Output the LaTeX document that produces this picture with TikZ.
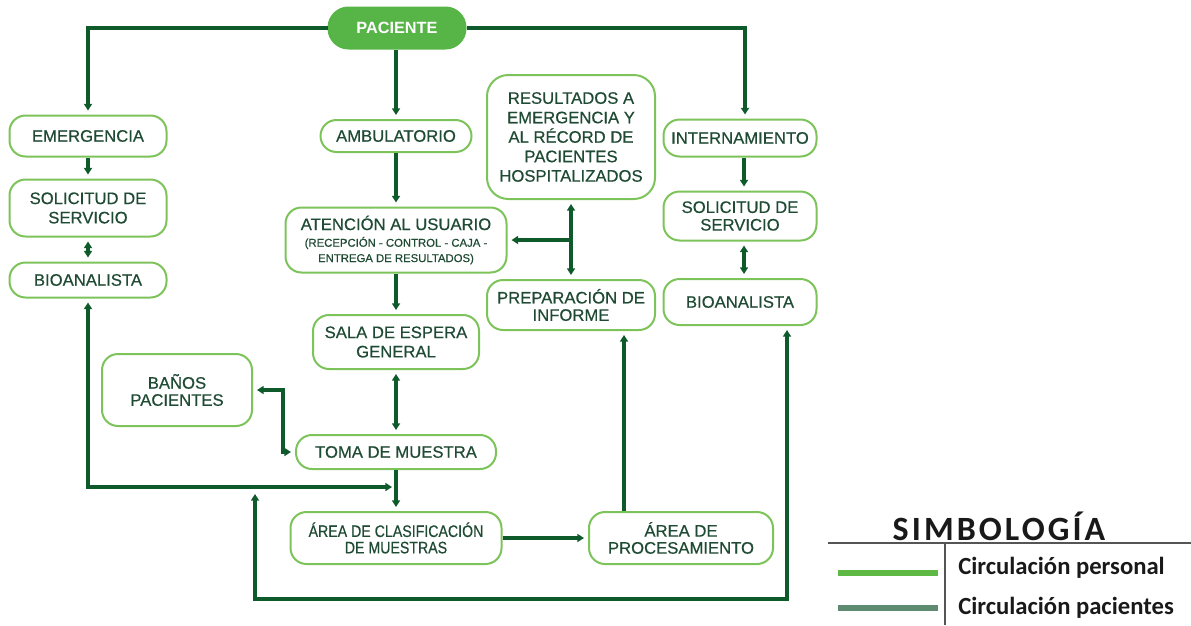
\documentclass[tikz,border=0pt]{standalone}
\usepackage{fontspec}
\setmainfont{Liberation Sans}
\newfontfamily\boxfont{Liberation Sans}[FakeBold=0.5]
\newfontfamily\narrowfont{Liberation Sans}[FakeStretch=0.85,FakeBold=0.5]
\newfontfamily\legendfont{Carlito}
\usetikzlibrary{arrows.meta}

\definecolor{linkgreen}{HTML}{0E5A2B}
\definecolor{boxline}{HTML}{7CC35A}
\definecolor{boxtext}{HTML}{1F4A33}
\definecolor{headfill}{HTML}{57B447}
\definecolor{staffline}{HTML}{5DB944}
\definecolor{patientline}{HTML}{5E8C70}
\definecolor{legendrule}{HTML}{555555}

\begin{document}
\begin{tikzpicture}[x=0.75pt,y=-0.75pt,
  stage/.style 2 args={draw=boxline, line width=1.5pt, rounded corners=12pt,
    minimum width=#1*0.75pt, minimum height=#2*0.75pt, inner sep=0pt,
    align=center, text=boxtext, font=\boxfont\fontsize{12.5}{14.5}\selectfont},
  flow/.style={draw=linkgreen, line width=2.4pt, shorten >=3pt},
  both/.style={flow, shorten <=3pt},
  >={Triangle[length=5pt,width=6pt]},
  legendtext/.style={anchor=west, inner sep=0pt, text=black!90,
    font=\legendfont\bfseries\fontsize{18.5}{20}\selectfont}]

\useasboundingbox (0,0) rectangle (1191,625);

% ---- boxes ----
\node[stage={137}{41}, fill=headfill, draw=headfill, text=white,
      rounded corners=15pt, font=\bfseries\fontsize{12.2}{14}\selectfont] (pac) at (397,28) {PACIENTE};

\node[stage={157}{41}] (emer) at (88,136) {EMERGENCIA};
\node[stage={157}{57}] (sol1) at (88,208) {SOLICITUD DE\\SERVICIO};
\node[stage={157}{35}] (bio1) at (88,280) {BIOANALISTA};

\node[stage={151}{32}] (amb) at (396,136) {AMBULATORIO};
\node[stage={221}{65}] (aten) at (396,240)
  {ATENCIÓN AL USUARIO\\[-2pt]{\fontsize{8.5}{10}\selectfont (RECEPCIÓN - CONTROL - CAJA -}\\[-3pt]{\fontsize{8.5}{10}\selectfont ENTREGA DE RESULTADOS)}};
\node[stage={166}{54}] (sala) at (396,342) {SALA DE ESPERA\\GENERAL};
\node[stage={150}{72}, font=\boxfont\fontsize{12.5}{12.8}\selectfont] (banos) at (177,390) {BAÑOS\\PACIENTES};
\node[stage={200}{34}] (toma) at (396,452) {TOMA DE MUESTRA};
\node[stage={211}{52}, font=\narrowfont\fontsize{12.5}{12.3}\selectfont] (clas) at (396,538) {ÁREA DE CLASIFICACIÓN\\DE MUESTRAS};

\node[stage={168}{124}, rounded corners=16pt, font=\boxfont\fontsize{12.5}{14.6}\selectfont] (res) at (571,137)
  {RESULTADOS A\\EMERGENCIA Y\\AL RÉCORD DE\\PACIENTES\\HOSPITALIZADOS};
\node[stage={168}{50}, font=\boxfont\fontsize{12.5}{13}\selectfont] (prep) at (571,305) {PREPARACIÓN DE\\INFORME};
\node[stage={184}{52}, font=\boxfont\fontsize{12.5}{12.8}\selectfont] (proc) at (681,538) {ÁREA DE\\PROCESAMIENTO};

\node[stage={153}{37}] (intern) at (740,138) {INTERNAMIENTO};
\node[stage={153}{49}, font=\boxfont\fontsize{12.5}{13.2}\selectfont] (sol2) at (740,216) {SOLICITUD DE\\SERVICIO};
\node[stage={153}{46}] (bio2) at (740,302) {BIOANALISTA};

% ---- connectors ----
\draw[flow,->] (pac.west) -| (emer.north);
\draw[flow,->] (pac.east) -| ([xshift=3.75pt]intern.north);
\draw[flow,->] (pac.south -| amb.north) -- (amb.north);

\draw[flow,->] (emer.south) -- (sol1.north);
\draw[both,<->] (sol1.south) -- (bio1.north);

\draw[flow,->] (amb.south) -- (aten.north);
\draw[flow,->] (aten.south) -- (sala.north);
\draw[both,<->] (sala.south) -- (toma.north);
\draw[flow,->] (toma.south) -- (clas.north);
\draw[both,<->] (banos.east) -- ++(30,0) |- (toma.west);

\coordinate (lj) at (396,487);
\draw[both,<->] (bio1.south) |- (lj);

\coordinate (bj) at (255,490);
\draw[both,<->] (bj) -- ++(0,109) -| ([xshift=35.25pt]bio2.south);

\draw[flow,->] (clas.east) -- (proc.west);
\coordinate (pu) at ([xshift=-42.75pt]proc.north);
\draw[flow,->] (pu) -- (pu |- prep.south);

\draw[both,<->] (res.south) -- (prep.north);
\draw[flow,->] (res.south |- aten.east) -- (aten.east);

\draw[flow,->] ([xshift=3pt]intern.south) -- ([xshift=3pt]sol2.north);
\draw[both,<->] ([xshift=3pt]sol2.south) -- ([xshift=3pt]bio2.north);

% ---- legend ----
\node[inner sep=0pt, text=black!90,
      font=\legendfont\bfseries\addfontfeatures{LetterSpace=9}\fontsize{25.5}{28}\selectfont] (simb) at (999,526) {SIMBOLOGÍA};
\draw[legendrule, line width=1.2pt] (828,543) -- (1191,543);
\draw[legendrule, line width=1.2pt] (945,543) -- (945,625);
\draw[staffline, line width=4.5pt] (838,573) -- (938,573);
\draw[patientline, line width=4.5pt] (838,608) -- (938,608);
\node[legendtext] (lstaff) at (958,568) {Circulación personal};
\node[legendtext] (lpat) at (958,608) {Circulación pacientes};
\end{tikzpicture}
\end{document}
